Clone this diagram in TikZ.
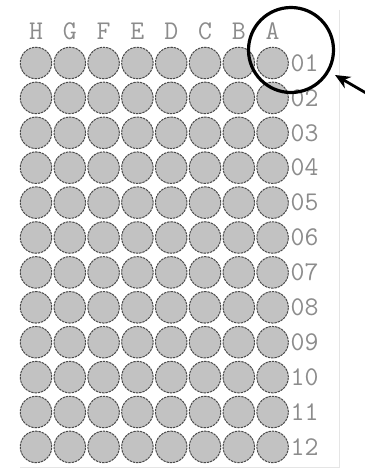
\documentclass[tikz,border=0pt]{standalone}
\usetikzlibrary{arrows.meta}
\definecolor{wellfill}{HTML}{C2C2C2}
\definecolor{wellline}{HTML}{4A4A4A}
\definecolor{labelgray}{HTML}{8C8C8C}
\tikzset{
  well/.style={circle, minimum size=31.5pt, inner sep=0pt, fill=wellfill, draw=wellline, line width=1pt, dash pattern=on 2.4pt off 0.9pt},
  collabel/.style={font=\ttfamily\fontsize{27}{27}\selectfont, text=labelgray, inner sep=0pt, anchor=center},
  rowlabel/.style={font=\ttfamily\fontsize{27}{27}\selectfont, text=labelgray, inner sep=0pt, anchor=west},
  marker/.style={circle, draw=black, line width=3.2pt, minimum size=85pt, inner sep=0pt},
  pointer/.style={-{Stealth[length=15pt,width=13pt]}, line width=2.8pt, black},
  edge/.style={draw=black!10, line width=1pt}
}
\begin{document}
\begin{tikzpicture}[x=1pt,y=-1pt]
\useasboundingbox[fill=white] (0,0) rectangle (364,470);
% faint plate border
\coordinate (bt) at (339,10);
\coordinate (br) at (339,467);
\coordinate (bl) at (20,467);
\draw[edge] (bt) -- (br) -- (bl);
% column letters
\foreach \L [count=\c from 0] in {H,G,F,E,D,C,B,A}{
  \node[collabel] (col\c) at ({36+\c*33.8},31) {\L};
}
% wells
\foreach \r in {1,...,12}{
  \foreach \c in {0,...,7}{
    \node[well] (w\r-\c) at ({36+\c*33.8},{63+(\r-1)*34.9}) {};
  }
}
% row numbers
\foreach \r/\t in {1/01,2/02,3/03,4/04,5/05,6/06,7/07,8/08,9/09,10/10,11/11,12/12}{
  \node[rowlabel] (row\r) at (290.5,{63+(\r-1)*34.9}) {\t};
}
% marker circle
\node[marker] (mark) at (291,50) {};
% arrow
\coordinate (tail) at (366,93);
\coordinate (tip) at (335,75);
\draw[pointer] (tail) -- (tip);
\end{tikzpicture}
\end{document}
